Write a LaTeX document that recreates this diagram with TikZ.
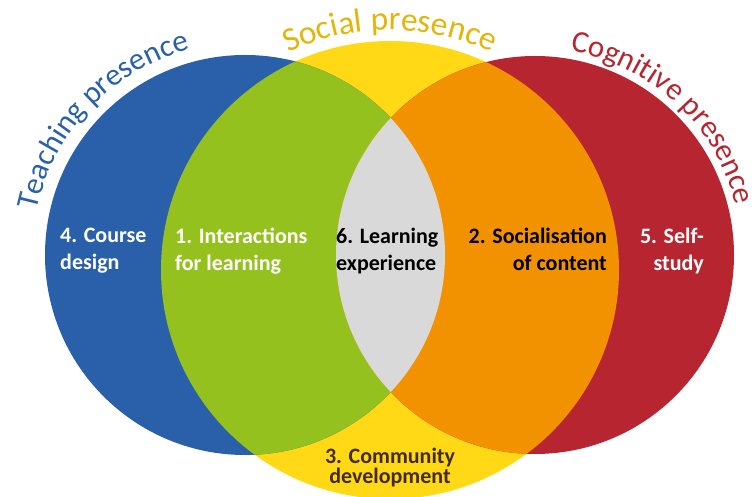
\documentclass[tikz,border=0pt]{standalone}
\usepackage{fontspec}
\setmainfont{Carlito}
\usetikzlibrary{decorations.text,calc}
\definecolor{cblue}{RGB}{42,96,170}
\definecolor{cgreen}{RGB}{149,193,31}
\definecolor{cyellow}{RGB}{255,217,22}
\definecolor{corange}{RGB}{243,146,0}
\definecolor{cred}{RGB}{183,38,48}
\definecolor{cgrey}{RGB}{217,217,217}
\definecolor{csocial}{RGB}{226,182,10}
\definecolor{cdark}{RGB}{68,42,36}
\newcommand{\arcfont}{\fontsize{31}{31}\selectfont}
\newcommand{\socfont}{\fontsize{33.5}{33}\selectfont}
\tikzset{
  lbl/.style={font=\fontsize{22}{27}\selectfont\bfseries, inner sep=0pt},
  arctext/.style={decorate, decoration={text along path, text align=center, text color=#1}}
}
\begin{document}
\begin{tikzpicture}[x=1pt,y=1pt]
\useasboundingbox (0,0) rectangle (755,497);
\coordinate (B) at (245,242);
\coordinate (R) at (535,242);
\coordinate (Y) at (390,227);
% circles
\fill[cyellow] (Y) circle[radius=229];
\fill[cblue] (B) circle[radius=200];
\fill[cred] (R) circle[radius=199];
\begin{scope}
  \clip (Y) circle[radius=229];
  \fill[cgreen] (B) circle[radius=200];
  \fill[corange] (R) circle[radius=199];
  \clip (B) circle[radius=200];
  \fill[cgrey] (R) circle[radius=199];
\end{scope}
% curved titles
\path[arctext=cblue, decoration={text={|\arcfont|Teaching presence}}]
  ($(B)+(205:213)$) arc[start angle=205, end angle=68, radius=213];
\path[arctext=csocial, decoration={text={|\socfont|Social presence}}]
  ($(Y)+(140:240)$) arc[start angle=140, end angle=40, radius=240];
\path[arctext=cred, decoration={text={|\arcfont|Cognitive presence}}]
  ($(R)+(115:207)$) arc[start angle=115, end angle=-21, radius=207];
% labels
\node[lbl, text=white, align=left, anchor=north west] (n4) at (60,269) {4. Course\\design};
\node[lbl, text=white, align=left, anchor=north west] (n1) at (175,269) {1. Interactions\\for learning};
\node[lbl, text=black, align=left, anchor=north west] (n6) at (336,269) {6. Learning\\experience};
\node[lbl, text=black, align=right, anchor=north east] (n2) at (607,269) {2. Socialisation\\of content};
\node[lbl, text=white, align=right, anchor=north east] (n5) at (704,269) {5. Self-\\study};
\node[lbl, text=cdark, align=center, anchor=north, font=\fontsize{22}{17}\selectfont\bfseries] (n3) at (390,49) {3. Community\\development};
\end{tikzpicture}
\end{document}
